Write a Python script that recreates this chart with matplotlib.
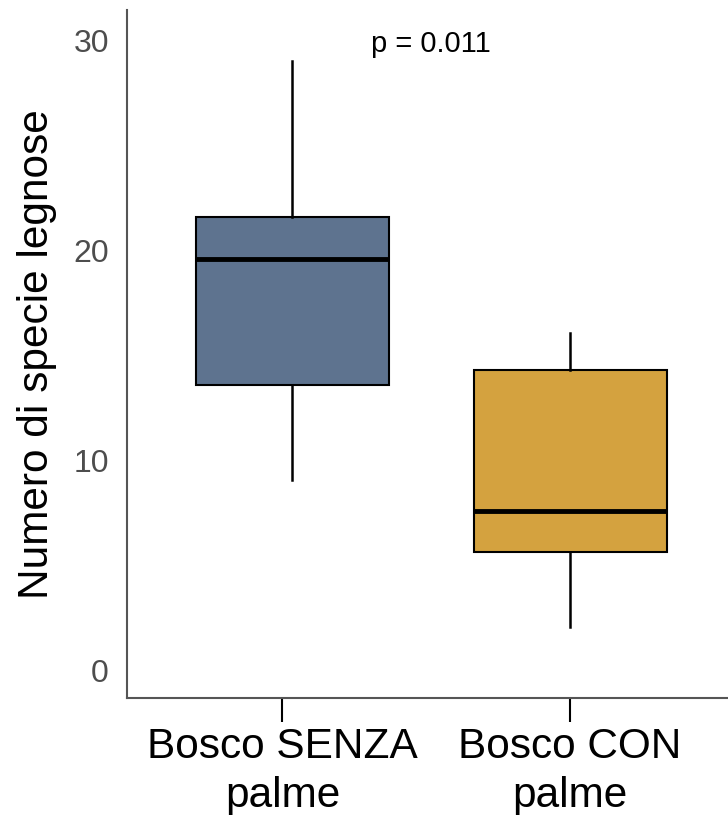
"""
Boxplot: numero di specie legnose, bosco senza / con palme.
"""

import matplotlib
matplotlib.use("Agg")
import matplotlib.pyplot as plt

# Summary stats (whisker low, Q1, median, Q3, whisker high)
groups = ["Bosco SENZA\npalme", "Bosco CON\npalme"]
whislo = [9.05, 2.05]
q1 = [13.55, 5.6]
med = [19.55, 7.55]
q3 = [21.55, 14.3]
whishi = [29.0, 16.05]
colors = ["#5e738f", "#d4a23f"]
p_text = "p = 0.011"

plt.rcParams["font.family"] = ["Liberation Sans", "DejaVu Sans"]

fig = plt.figure(figsize=(7.28, 8.15), dpi=100)
ax = fig.add_axes([0.1745, 0.1436, 0.8255, 0.8441])

stats = []
for i in range(len(groups)):
    stats.append({
        "whislo": whislo[i], "q1": q1[i], "med": med[i],
        "q3": q3[i], "whishi": whishi[i], "fliers": [],
    })

bp = ax.bxp(stats, positions=[1, 2], widths=0.694, patch_artist=True,
            showcaps=False, showfliers=False,
            boxprops=dict(edgecolor="black", linewidth=1.5),
            whiskerprops=dict(color="black", linewidth=1.8),
            medianprops=dict(color="black", linewidth=3.5))
for patch, c in zip(bp["boxes"], colors):
    patch.set_facecolor(c)

ax.text(1.5, 29.8, p_text, ha="center", va="center", fontsize=21)

ax.set_xlim(0.406, 2.568)
ax.set_ylim(-1.33, 31.43)
ax.set_yticks([0, 10, 20, 30])
ax.set_xticks([0.965, 1.998])
ax.set_xticklabels(groups, fontsize=30.5, linespacing=1.3)
ax.tick_params(axis="y", length=0, pad=13, labelsize=23, labelcolor="#4d4d4d")
ax.tick_params(axis="x", length=17, width=1.5, color="black", pad=4)
ax.set_ylabel("Numero di specie legnose", fontsize=30.5, labelpad=12)

for side in ["top", "right"]:
    ax.spines[side].set_visible(False)
for side in ["left", "bottom"]:
    ax.spines[side].set_color("#555555")
    ax.spines[side].set_linewidth(1.5)

fig.savefig("out.png", dpi=100)
